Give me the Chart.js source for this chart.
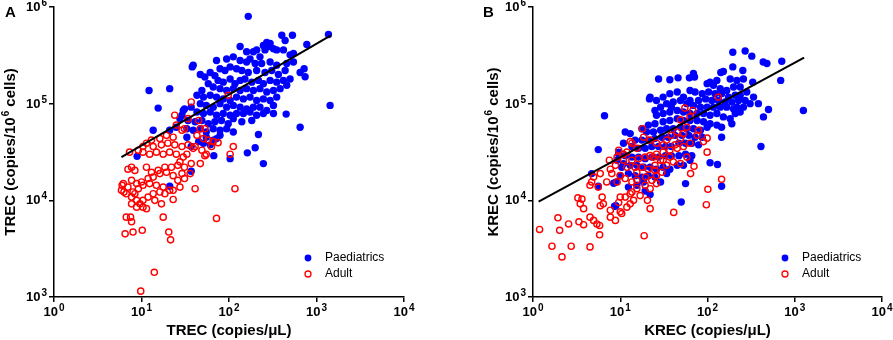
<!DOCTYPE html>
<html>
<head>
<meta charset="utf-8">
<script src="https://cdn.jsdelivr.net/npm/chart.js@4.4.1/dist/chart.umd.min.js"></script>
<style>
  html, body { margin: 0; padding: 0; background: #fff; }
  #wrap { position: relative; width: 893px; height: 340px; }
  .panel { position: absolute; top: 0; width: 446px; height: 340px; }
</style>
</head>
<body>
<div id="wrap">
  <div class="panel" style="left:0"><canvas id="chartA" width="446" height="340"></canvas></div>
  <div class="panel" style="left:447px"><canvas id="chartB" width="446" height="340"></canvas></div>
</div>
<script>
// axis ticks (decades) and their exponent labels
const xTicks = [1, 10, 100, 1000, 10000];
const xTickExp = ['0', '1', '2', '3', '4'];
const yTicks = [1000, 10000, 100000, 1000000];
const yTickExp = ['3', '4', '5', '6'];

const seriesNames = ['Paediatrics', 'Adult'];

// Panel A: TREC copies/uL vs TREC copies/10^6 cells
const paedTrec = [
  [166,8.0e5],[1370,5.2e5],[401,5.1e5],[531,5.1e5],[438,4.5e5],[775,4.1e5],[134,3.9e5],[545,3.3e5],[722,2.3e5],[741,1.9e5],
  [1430,9.6e4],[650,5.7e4],[450,7.8e4],[217,4.8e4],[199,3.5e4],[162,3.1e4],[247,2.4e4],[103,2.7e4],[67,2.9e4],[12.2,1.37e5],
  [21,1.43e5],[15.5,9.0e4],[13.6,5.3e4],[8.9,2.85e4],[21,1.4e4],[37,2.0e4],[30,8.5e4],[39,2.5e5],[38,2.4e5],
  [270,4.3e5],[295,4.2e5],[247,4.0e5],[282,3.9e5],[322,3.7e5],[258,3.6e5],[207,3.6e5],[190,3.45e5],[351,3.6e5],[419,3.6e5],
  [159,3.45e5],[499,3.2e5],[226,3.05e5],[174,2.9e5],[112,3.05e5],[94,2.9e5],[134,2.8e5],[159,2.7e5],[199,2.6e5],[236,2.6e5],
  [295,2.7e5],[351,2.5e5],[457,2.6e5],[545,2.7e5],[72,2.8e5],
  [47,2.0e5],[53,1.89e5],[61,2.1e5],[69,1.95e5],[79,2.3e5],[90,2.2e5],[103,2.4e5],[122,2.3e5],[140,2.2e5],[166,2.1e5],
  [207,2.2e5],[258,2.1e5],[308,2.2e5],[367,2.0e5],[438,2.2e5],[650,2.1e5],
  [75,1.74e5],[86,1.67e5],[103,1.8e5],[117,1.61e5],[134,1.74e5],[152,1.8e5],[182,1.67e5],[217,1.74e5],[247,1.61e5],[295,1.74e5],
  [351,1.67e5],[419,1.74e5],[499,1.8e5],
  [58,1.61e5],[66,1.49e5],[79,1.43e5],[94,1.37e5],[112,1.43e5],[134,1.37e5],[159,1.43e5],[190,1.37e5],[226,1.43e5],[270,1.32e5],
  [322,1.37e5],[384,1.43e5],[457,1.55e5],
  [49,1.37e5],[43,1.22e5],[51,1.17e5],[61,1.22e5],[72,1.17e5],[86,1.12e5],[103,1.08e5],[122,1.17e5],[146,1.12e5],[174,1.17e5],
  [207,1.08e5],[247,1.12e5],[295,1.08e5],[351,1.17e5],
  [47,1.0e5],[55,9.6e4],[66,9.2e4],[79,1.0e5],[94,9.2e4],[112,9.6e4],[134,9.2e4],[159,8.8e4],[190,9.2e4],[226,9.2e4],
  [270,8.5e4],[322,9.6e4],
  [37,9.2e4],[43,8.2e4],[51,7.9e4],[61,8.2e4],[72,7.6e4],[86,7.9e4],[103,7.6e4],[122,7.9e4],[146,7.9e4],[174,8.2e4],
  [207,7.6e4],[247,7.9e4],[322,7.9e4],
  [34,6.7e4],[41,6.5e4],[49,6.7e4],[58,6.2e4],[69,6.5e4],[82,6.7e4],[98,6.2e4],[112,7.0e4],[140,6.5e4],[182,6.7e4],
  [33,5.5e4],[39,5.3e4],[47,5.5e4],[55,5.1e4],[66,5.5e4],[79,5.3e4],[94,5.5e4],[112,5.1e4],
  [55,4.5e4],[66,4.2e4],[79,4.7e4],[51,3.9e4],[61,3.75e4],[72,4.35e4],[45,4.05e4],[37,3.6e4],[29,7.6e4],[31,8.8e4],
  [27.5,7.0e4],[25,5.7e4],[33,4.5e4],[21,5.3e4]
];
const adultTrec = [
  [37,1.04e5],[98,1.22e5],[24,7.6e4],[31,5.5e4],[34,7.0e4],[45,6.7e4],[47,5.5e4],[53,5.5e4],[43,4.7e4],[51,4.35e4],
  [58,4.2e4],[66,4.05e4],[75,3.95e4],[29,5.3e4],[25,6.0e4],[19.3,4.7e4],[23,4.5e4],[16.2,4.35e4],[13,4.2e4],[11.4,3.9e4],
  [10.4,3.6e4],[13.6,3.6e4],[16.9,3.75e4],[20,3.9e4],[24,3.75e4],[29,3.6e4],[34,3.75e4],[41,3.6e4],[49,3.3e4],[55,3.0e4],
  [47,2.4e4],[37,2.4e4],[30,2.8e4],[25,3.0e4],[21,3.15e4],[17.7,3.0e4],[14.8,3.15e4],[12.4,3.0e4],[10.4,3.15e4],[9.2,3.3e4],
  [7.3,3.15e4],[7.7,2.2e4],[7.0,2.1e4],[8.4,2.04e4],[11.4,2.2e4],[13,1.95e4],[15.5,2.04e4],[18.5,2.2e4],[22,2.2e4],[26,2.3e4],
  [31,2.2e4],[36,1.89e4],[29,1.89e4],[23,1.8e4],[19.3,1.95e4],[16.2,1.89e4],[13.6,1.74e4],[11.9,1.68e4],[10,1.55e4],[8.8,1.49e4],
  [7.7,1.61e4],[6.2,1.49e4],[5.9,1.27e4],[6.7,1.17e4],[8.0,1.22e4],[9.2,1.32e4],[10.4,1.43e4],[12.4,1.49e4],[14.8,1.43e4],[17.7,1.37e4],
  [21,1.27e4],[26,1.61e4],[31,1.68e4],[27.5,1.37e4],[41,1.32e4],[112,3.6e4],[103,3.0e4],[117,1.32e4],[72,6.5e3],[23,1.27e4],
  [18.5,1.17e4],[16.2,1.22e4],[13.6,1.17e4],[11.9,1.08e4],[10.4,1.0e4],[9.6,9.2e3],[8.8,8.5e3],[7.7,9.2e3],[7.7,1.08e4],[8.4,1.17e4],
  [8.8,1.0e4],[10.4,8.5e3],[11.4,8.2e3],[14.2,1.0e4],[16.9,9.2e3],[23,1.02e4],[17.7,6.7e3],[6.7,6.7e3],[7.5,6.7e3],[7.7,6.0e3],
  [6.5,4.5e3],[8.0,4.7e3],[10.2,4.9e3],[20.5,4.7e3],[21.5,3.9e3],[14,1.8e3],[9.8,1.15e3],[6.3,1.22e4],[6.0,1.43e4],[7.0,1.37e4],
  [53,2.9e4],[39,3.45e4],[63,3.6e4],[33,3.0e4],[27.5,2.5e4]
];
const fitTrec = [[5.9, 2.8e4], [1460, 5.1e5]];

// Panel B: KREC copies/uL vs KREC copies/10^6 cells
const paedKrec = [
  [195,3.4e5],[270,3.5e5],[322,3.1e5],[435,2.7e5],[480,2.6e5],[710,2.75e5],[690,1.74e5],[330,1.67e5],[254,2.2e5],[195,2.4e5],
  [142,2.1e5],[152,2.15e5],[69,2.05e5],[71,1.89e5],[62,1.85e5],[46,1.85e5],[37,1.77e5],[27.5,1.8e5],[22,1.17e5],[21.6,1.12e5],
  [500,8.7e4],[1256,8.5e4],[410,3.6e4],[145,4.5e4],[107,2.45e4],[130,2.35e4],[145,1.4e4],[56,1.49e4],[50,9.6e3],[22,1.15e4],
  [19.3,1.25e4],[8.9,8.8e3],[8.6,8.7e3],[9.0,1.55e4],[8.4,1.5e4],[5.6,1.4e4],[5.6,3.35e4],[6.6,7.5e4],[4.7,1.89e4],
  [99,1.61e5],[117,1.55e5],[140,1.43e5],[166,1.37e5],[199,1.49e5],[237,1.49e5],[282,1.32e5],[208,1.22e5],[174,1.17e5],[145,1.27e5],
  [122,1.27e5],[103,1.32e5],[87,1.27e5],[72,1.32e5],[63,1.37e5],[79,1.08e5],[95,1.12e5],[112,1.08e5],[133,1.08e5],[159,1.04e5],
  [190,1.04e5],[227,1.08e5],[270,1.08e5],[308,1.0e5],[258,9.2e4],[217,9.2e4],[166,9.2e4],[140,9.2e4],[117,9.2e4],[99,9.2e4],
  [83,9.2e4],[69,9.6e4],[58,1.0e5],[49,1.08e5],[40.5,1.04e5],[34,1.0e5],[29,9.2e4],[25,8.5e4],[26,7.6e4],[31,7.9e4],
  [37,8.2e4],[45,8.5e4],[53,8.2e4],[63,7.9e4],[76,7.9e4],[90,7.9e4],[107,7.6e4],[128,7.9e4],[152,7.3e4],[182,7.0e4],
  [208,7.9e4],[190,6.2e4],[145,5.7e4],[128,6.0e4],[107,6.2e4],[90,6.5e4],[76,6.7e4],[63,6.7e4],[53,6.7e4],[45,7.0e4],
  [37,6.7e4],[31,6.5e4],[25,6.2e4],[21,6.0e4],[17.7,5.5e4],[20,5.1e4],[24,5.1e4],[29,5.3e4],[34,5.5e4],[40.5,5.5e4],
  [49,5.7e4],[58,5.5e4],[69,5.5e4],[83,5.3e4],[99,5.7e4],[87,4.5e4],[72,4.5e4],[61,4.7e4],[51,4.7e4],[42.5,4.7e4],
  [35.5,4.5e4],[30,4.5e4],[25,4.35e4],[21,4.2e4],[17.7,4.2e4],[14.8,4.2e4],[13,4.9e4],[11.4,5.1e4],[10.9,3.9e4],[13.6,3.6e4],
  [16.2,3.45e4],[19.3,3.45e4],[23,3.6e4],[27.5,3.6e4],[33,3.6e4],[38.5,3.6e4],[47,3.9e4],[56,3.9e4],[66,3.9e4],[79,3.75e4],
  [66,2.9e4],[56,3.0e4],[47,2.9e4],[38.5,2.9e4],[33,2.9e4],[27.5,2.8e4],[23,2.8e4],[19.3,2.7e4],[16.2,2.8e4],[13.6,2.8e4],
  [11.4,2.9e4],[9.6,3.0e4],[9.2,2.6e4],[10.9,2.4e4],[13,2.3e4],[15.5,2.3e4],[18.5,2.2e4],[22,2.2e4],[26,2.1e4],[31,2.2e4],
  [37,2.1e4],[45,2.3e4],[53,2.3e4],[63,2.6e4],[25,1.74e4],[21,1.8e4],[17.7,1.74e4],[14.8,1.8e4],[12.4,1.89e4],[10,1.8e4],
  [15.5,1.43e4],[18.5,1.55e4],[29,1.55e4],[34,1.89e4],[10.4,2.2e4],[9.6,3.15e4],[12.4,1.37e4],[438,7.3e4],[337,1.17e5],[383,1.0e5],
  [237,1.22e5],[182,1.8e5],[258,1.8e5],[217,1.74e5],[128,1.74e5],[107,1.67e5],[199,8.8e4],[237,8.2e4],[63,1.08e5],[53,1.17e5],
  [45,1.32e5],[37,1.27e5],[31,1.17e5],[26,1.08e5],[38.5,9.2e4]
];
const adultKrec = [
  [133,1.17e5],[55,9.0e4],[68,8.5e4],[49,6.8e4],[63,7.3e4],[79,5.3e4],[99,4.4e4],[99,3.15e4],[70,2.25e4],[64,1.89e4],
  [101,1.3e4],[97,9.0e3],[145,1.65e4],[41,7.5e3],[18.8,4.3e3],[20.5,1.0e4],[22,8.2e3],[22,1.32e4],[23,1.61e4],[19.5,1.74e4],
  [15.5,1.61e4],[13.6,1.55e4],[11.4,1.68e4],[10,1.8e4],[9.2,1.55e4],[8.0,1.89e4],[7.7,2.1e4],[8.8,2.3e4],[10.9,2.6e4],[13.6,2.6e4],
  [16.2,2.7e4],[19.3,2.8e4],[22,2.9e4],[26,3.0e4],[31,3.15e4],[37,3.3e4],[45,3.45e4],[53,3.6e4],[63,3.9e4],[53,4.9e4],
  [45,5.1e4],[38.5,4.7e4],[34,4.2e4],[31,3.75e4],[26,3.9e4],[22,4.2e4],[18.5,4.5e4],[18,5.5e4],[13.6,3.9e4],[13,4.05e4],
  [15.5,3.45e4],[11.9,3.15e4],[10.9,3.0e4],[9.2,2.8e4],[9.6,3.3e4],[11.9,2.2e4],[14.8,2.2e4],[17.7,2.2e4],[21,2.1e4],[25,2.04e4],
  [30,1.95e4],[34,2.3e4],[40.5,2.5e4],[49,2.4e4],[15.5,1.32e4],[13.6,1.22e4],[13,1.17e4],[10,1.08e4],[9.6,9.5e3],[10,7.6e3],
  [8.8,6.2e3],[7.7,6.7e3],[5.9,8.8e3],[6.4,9.2e3],[6.2,1.08e4],[5.6,1.37e4],[4.5,1.43e4],[4.95,1.74e4],[4.7,1.55e4],[7.5,2.6e4],
  [11.4,1.08e4],[13,9.2e3],[15.5,1.95e4],[26,1.49e4],[26,1.8e4],[19.3,1.43e4],[16.9,1.12e4],[14.2,1.0e4],[11.9,8.5e3],[10.4,7.3e3],
  [3.27,1.06e4],[3.64,1.03e4],[3.8,8.2e3],[3.48,9.2e3],[3.36,6.0e3],[3.8,5.6e3],[4.5,6.7e3],[4.95,6.2e3],[5.4,5.7e3],[5.8,5.5e3],
  [5.8,4.4e3],[4.5,3.3e3],[2.74,3.35e3],[2.56,5.7e3],[2.02,4.9e3],[1.93,6.6e3],[1.65,3.35e3],[2.15,2.6e3],[1.19,5.0e3],[7.7,7.9e3],
  [5.9,1.89e4],[7.0,1.55e4],[25,2.3e4],[31,2.6e4],[37,2.8e4],[58,2.8e4],[42.5,3.75e4],[49,4.35e4],[58,5.7e4],[76,4.7e4],
  [90,4.05e4],[29,2.6e4],[24,2.8e4]
];
const fitKrec = [[1.16, 9.7e3], [1280, 3.0e5]];

const BLUE = '#0000ff';
const RED = '#ff0000';
const FONT = '"Liberation Sans", Arial, sans-serif';

function toPoints(arr) {
    return arr.map(p => ({ x: p[0], y: p[1] }));
}

// draws "10" with a raised exponent; align = 'center' | 'right'
function drawPower(ctx, x, y, exp, align) {
    ctx.font = 'bold 13px ' + FONT;
    const wb = ctx.measureText('10').width;
    ctx.font = 'bold 10px ' + FONT;
    const we = ctx.measureText(exp).width;
    const w = wb + 1 + we;
    const start = align === 'center' ? x - w / 2 : x - w;
    ctx.textAlign = 'left';
    ctx.textBaseline = 'alphabetic';
    ctx.font = 'bold 13px ' + FONT;
    ctx.fillText('10', start, y);
    ctx.font = 'bold 10px ' + FONT;
    ctx.fillText(exp, start + wb + 1, y - 5);
}

const panelText = {
    id: 'panelText',
    afterDraw(chart, args, o) {
        const ctx = chart.ctx;
        const xs = chart.scales.x;
        const ys = chart.scales.y;
        const ca = chart.chartArea;
        ctx.save();
        ctx.fillStyle = '#000';

        // tick labels
        xTicks.forEach((v, i) => drawPower(ctx, xs.getPixelForValue(v), 316, xTickExp[i], 'center'));
        yTicks.forEach((v, i) => drawPower(ctx, ca.left - 7, ys.getPixelForValue(v) + 4, yTickExp[i], 'right'));

        // panel letter
        ctx.font = 'bold 15px ' + FONT;
        ctx.textAlign = 'left';
        ctx.fillText(o.letter, o.letterX, 17);

        // x title
        ctx.font = 'bold 15px ' + FONT;
        ctx.textAlign = 'center';
        ctx.fillText(o.xTitle, (ca.left + ca.right) / 2, 335);

        // y title with superscript, rotated
        const [p1, sup, p3] = o.yTitle;
        ctx.font = 'bold 15px ' + FONT;
        const w1 = ctx.measureText(p1).width;
        const w3 = ctx.measureText(p3).width;
        ctx.font = 'bold 10px ' + FONT;
        const w2 = ctx.measureText(sup).width;
        const total = w1 + 1 + w2 + w3;
        ctx.translate(o.yTitleX, (ca.top + ca.bottom) / 2);
        ctx.rotate(-Math.PI / 2);
        ctx.textAlign = 'left';
        let s = -total / 2;
        ctx.font = 'bold 15px ' + FONT;
        ctx.fillText(p1, s, 0);
        ctx.font = 'bold 10px ' + FONT;
        ctx.fillText(sup, s + w1 + 1, -6);
        ctx.font = 'bold 15px ' + FONT;
        ctx.fillText(p3, s + w1 + 1 + w2, 0);
        ctx.setTransform(1, 0, 0, 1, 0, 0);

        // legend
        const lx = o.legendX;
        ctx.fillStyle = BLUE;
        ctx.beginPath();
        ctx.arc(lx, 258, 3.4, 0, Math.PI * 2);
        ctx.fill();
        ctx.strokeStyle = RED;
        ctx.lineWidth = 1.3;
        ctx.beginPath();
        ctx.arc(lx, 274, 3.0, 0, Math.PI * 2);
        ctx.stroke();
        ctx.fillStyle = '#000';
        ctx.font = '12px ' + FONT;
        ctx.textAlign = 'left';
        ctx.textBaseline = 'middle';
        ctx.fillText(seriesNames[0], lx + 17, 258);
        ctx.fillText(seriesNames[1], lx + 17, 274);
        ctx.restore();
    }
};

function logAxis(min, max, ticks, fit) {
    return {
        type: 'logarithmic',
        min: min,
        max: max,
        afterBuildTicks: scale => { scale.ticks = ticks.map(v => ({ value: v })); },
        afterFit: fit,
        ticks: { display: false },
        grid: { display: true, drawOnChartArea: false, drawTicks: true, tickLength: 5, color: '#000', lineWidth: 1.5 },
        border: { display: true, color: '#000', width: 1.5 }
    };
}

function buildChart(id, cfg) {
    return new Chart(document.getElementById(id), {
        type: 'scatter',
        data: {
            datasets: [
                {
                    label: 'fit',
                    data: toPoints(cfg.fit),
                    showLine: true,
                    borderColor: '#000',
                    borderWidth: 2,
                    pointRadius: 0,
                    order: 0
                },
                {
                    label: seriesNames[1],
                    data: toPoints(cfg.adult),
                    pointRadius: 3.1,
                    pointHoverRadius: 3.1,
                    borderWidth: 1.4,
                    borderColor: RED,
                    backgroundColor: 'rgba(255,255,255,0)',
                    order: 1
                },
                {
                    label: seriesNames[0],
                    data: toPoints(cfg.paed),
                    pointRadius: 3.7,
                    pointHoverRadius: 3.7,
                    borderWidth: 0,
                    borderColor: BLUE,
                    backgroundColor: BLUE,
                    order: 2
                }
            ]
        },
        options: {
            responsive: false,
            animation: false,
            events: [],
            layout: { padding: { left: cfg.padLeft, right: cfg.padRight, top: 7, bottom: 23 } },
            plugins: {
                legend: { display: false },
                tooltip: { enabled: false },
                panelText: cfg.text
            },
            scales: {
                x: logAxis(1, 10000, xTicks, s => { s.height = 20; }),
                y: logAxis(1000, 1000000, yTicks, s => { s.width = 20; })
            }
        },
        plugins: [panelText]
    });
}

buildChart('chartA', {
    paed: paedTrec, adult: adultTrec, fit: fitTrec,
    padLeft: 34, padRight: 42,
    text: { letter: 'A', letterX: 5, xTitle: 'TREC (copies/μL)', yTitle: ['TREC (copies/10', '6', ' cells)'], yTitleX: 15, legendX: 308 }
});

buildChart('chartB', {
    paed: paedKrec, adult: adultKrec, fit: fitKrec,
    padLeft: 66, padRight: 11,
    text: { letter: 'B', letterX: 36, xTitle: 'KREC (copies/μL)', yTitle: ['KREC (copies/10', '6', ' cells)'], yTitleX: 51, legendX: 338 }
});
</script>
</body>
</html>
